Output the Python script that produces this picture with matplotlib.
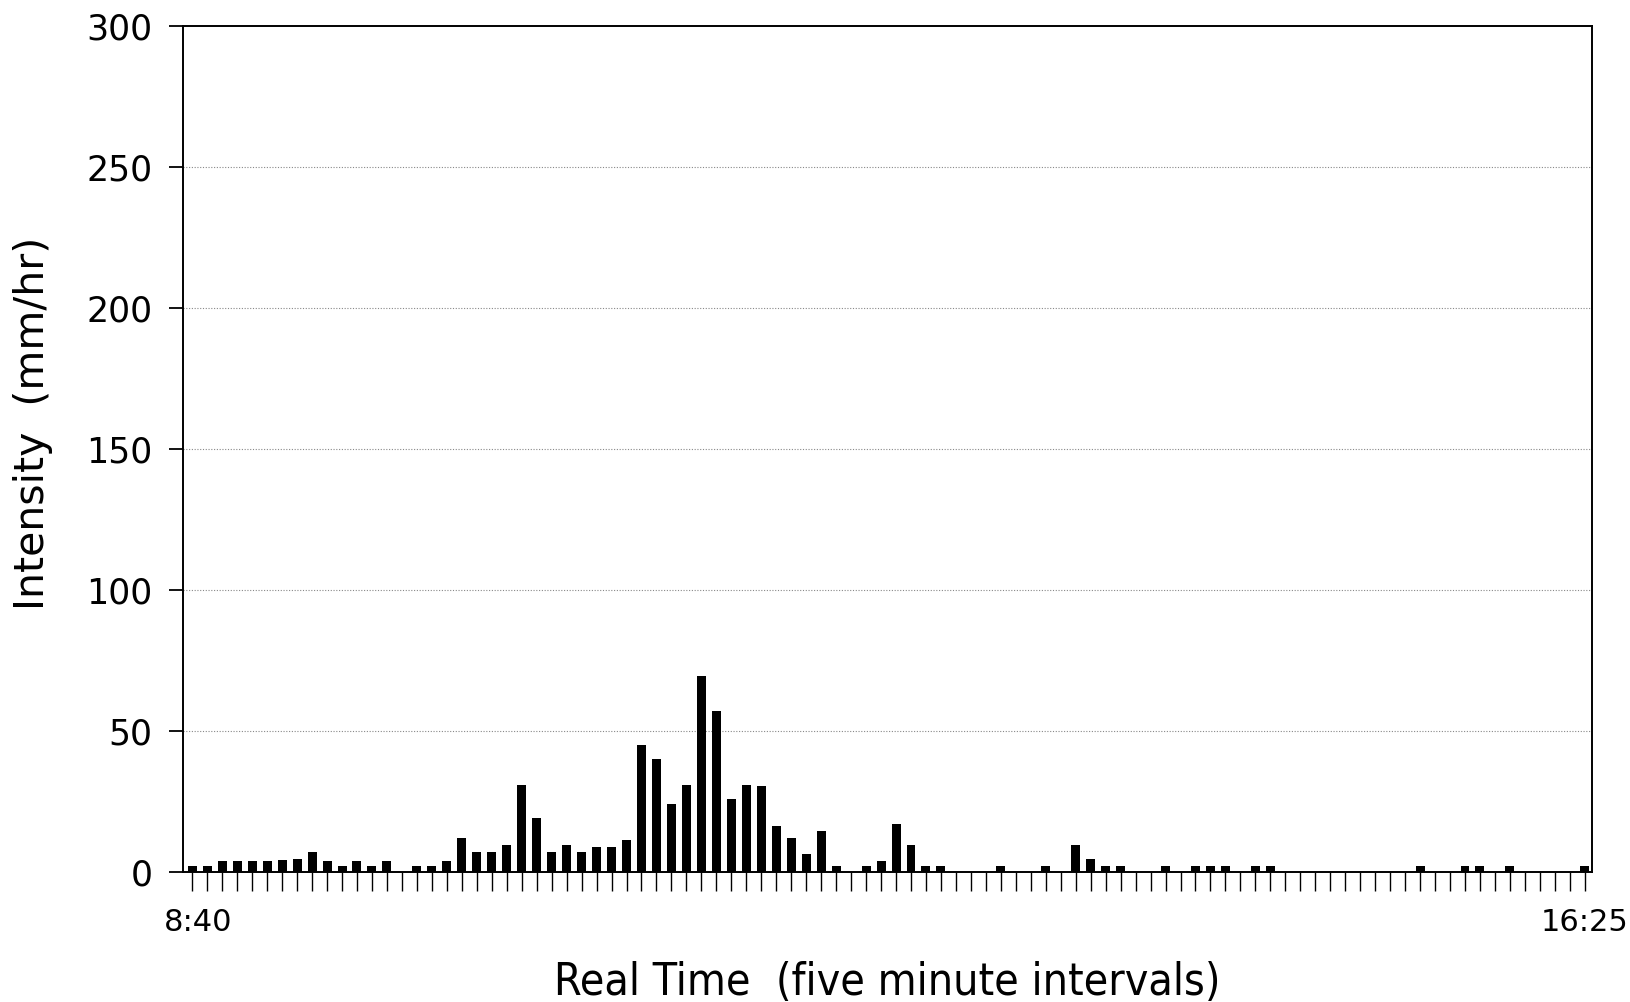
import numpy as np
import matplotlib
matplotlib.use('Agg')
import matplotlib.pyplot as plt
import matplotlib.transforms as mtransforms

# rainfall intensity, five minute intervals from 8:40 to 16:25
intensity = [2, 2, 4, 4, 4, 4, 4.3, 4.5, 7, 4,
             2, 4, 2, 4, 0, 2, 2, 4, 12, 7,
             7, 9.5, 31, 19, 7, 9.5, 7, 9, 9, 11.5,
             45, 40, 24, 31, 69.5, 57, 26, 31, 30.5, 16.5,
             12, 6.5, 14.5, 2, 0, 2, 4, 17, 9.5, 2,
             2, 0, 0, 0, 2, 0, 0, 2, 0, 9.5,
             4.5, 2, 2, 0, 0, 2, 0, 2, 2, 2,
             0, 2, 2, 0, 0, 0, 0, 0, 0, 0,
             0, 0, 2, 0, 0, 2, 2, 0, 2, 0,
             0, 0, 0, 2]
start_label = '8:40'
end_label = '16:25'
yticks = [0, 50, 100, 150, 200, 250, 300]

x = np.arange(len(intensity))

fig = plt.figure(figsize=(16.31, 10.02), dpi=100)
ax = fig.add_axes([0.1122, 0.1297, 0.8636, 0.8443])

ax.bar(x, intensity, width=0.6, color='black', zorder=3)

ax.set_xlim(-0.62, len(intensity) - 0.55)
ax.set_ylim(0, 300)

ax.set_yticks(yticks)
ax.set_yticklabels([str(v) for v in yticks], fontsize=25)
ax.tick_params(axis='y', length=10, width=1.3, pad=12, direction='out')

ax.set_xticks(x)
labels = [''] * len(x)
labels[0] = start_label
labels[-1] = end_label
ax.set_xticklabels(labels, fontsize=22)
ax.tick_params(axis='x', length=14, width=1.0, pad=12, direction='out')

# first time label sits a little right of its tick
first = ax.get_xticklabels()[0]
first.set_transform(first.get_transform() +
                    mtransforms.ScaledTranslation(0.06, 0, fig.dpi_scale_trans))

for v in yticks[1:-1]:
    ax.axhline(v, color='#888888', linestyle=(0, (1, 1.5)), linewidth=0.8, zorder=1)

for s in ax.spines.values():
    s.set_linewidth(1.4)
    s.set_color('black')

ax.set_ylabel('Intensity  (mm/hr)', fontsize=29.5)
ax.yaxis.set_label_coords(-0.092, 0.53)
ax.set_xlabel('Real Time  (five minute intervals)', fontsize=32,
              fontstretch='condensed', labelpad=17)

fig.savefig('out.png', dpi=100)
